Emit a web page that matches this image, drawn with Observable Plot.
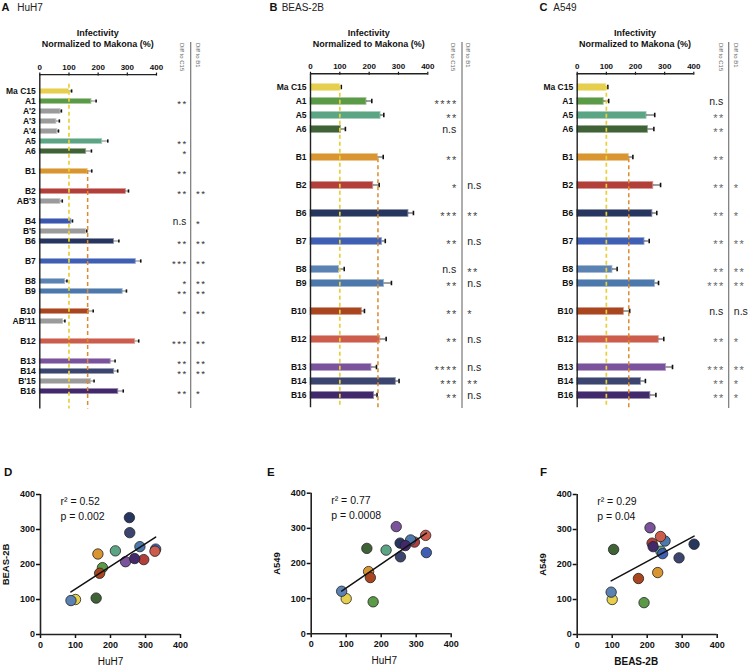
<!DOCTYPE html>
<html><head><meta charset="utf-8">
<script src="https://cdn.jsdelivr.net/npm/d3@7"></script>
<script src="https://cdn.jsdelivr.net/npm/@observablehq/plot@0.6"></script>
<style>
body{margin:0;background:#fff;}
#root{position:relative;width:748px;height:666px;overflow:hidden;font-family:Arial,"Liberation Sans",sans-serif;background:#fff;}
#root svg{position:absolute;}
</style></head><body><div id="root"></div>
<script>
// ---------------- data ----------------
const strainColors = {
  "Ma C15":"#e6cf4c","A1":"#5b9a47","A5":"#5ba584","A6":"#3f6236","B1":"#d9952f","B2":"#b23f3a",
  "B4":"#3b56ae","B6":"#27365f","B7":"#3e5fb3","B8":"#5a82b2","B9":"#4d78ac","B10":"#a9461f",
  "B12":"#cc5d4d","B13":"#7b529c","B14":"#3b4570","B16":"#41296b"
};
const grayColor = "#9b9b9b";
const xTicks = [0,100,200,300,400];

// Panel A (HuH7): row layout (null = empty spacer row)
const rowsA = ["Ma C15","A1","A'2","A'3","A'4","A5","A6",null,"B1",null,"B2","AB'3",null,"B4","B'5","B6",null,"B7",null,"B8","B9",null,"B10","AB'11",null,"B12",null,"B13","B14","B'15","B16"];
const strainsA = ["Ma C15","A1","A'2","A'3","A'4","A5","A6","B1","B2","AB'3","B4","B'5","B6","B7","B8","B9","B10","AB'11","B12","B13","B14","B'15","B16"];
const huh7    = [100,177,71,57,60,214,159,164,295,71,108,158,254,329,87,284,169,80,327,243,255,176,269];
const huh7Err = [9,16,3,10,4,19,18,14,9,6,4,3,17,17,6,13,14,6,12,15,12,10,17];
const huh7SigC15 = ["","**","","","","**","*","**","**","","n.s","","**","***","*","**","*","","***","**","**","","**"];
const huh7SigB1  = ["","","","","","","","","**","","*","","**","**","**","**","**","","**","**","**","","*"];

// Panels B (BEAS-2B) and C (A549)
const rowsBC = ["Ma C15","A1","A5","A6",null,"B1",null,"B2",null,"B6",null,"B7",null,"B8","B9",null,"B10",null,"B12",null,"B13","B14","B16"];
const strainsBC = ["Ma C15","A1","A5","A6","B1","B2","B6","B7","B8","B9","B10","B12","B13","B14","B16"];
const beas    = [100,191,239,104,230,214,334,244,97,251,175,238,208,291,217];
const beasErr = [5,18,11,15,18,20,17,11,18,25,9,20,17,11,10];
const beasSigC15 = ["","****","**","n.s","**","*","***","**","n.s","**","**","**","****","***","**"];
const beasSigB1  = ["","","","","","n.s","**","n.s","**","n.s","*","n.s","n.s","**","n.s"];
const a549    = [100,91,238,243,177,261,258,231,121,267,160,280,305,219,251];
const a549Err = [5,17,28,20,14,25,15,16,16,12,20,17,22,15,19];
const a549SigC15 = ["","n.s","**","**","**","**","**","**","**","***","n.s","**","***","**","**"];
const a549SigB1  = ["","","","","","*","*","**","**","**","n.s","*","**","*","*"];

// correlation statistics
const corrStats = {D:["r² = 0.52","p = 0.002"], E:["r² = 0.77","p = 0.0008"], F:["r² = 0.29","p = 0.04"]};
const titleLines = ["Infectivity","Normalized to Makona (%)"];
const headerTexts = ["Diff to C15","Diff to B1"];

// ---------------- drawing ----------------
const root = document.getElementById("root");
const FONT = 'Arial, "Liberation Sans", sans-serif';

function barPanel(cfg) {
  const {rows, strains, vals, errs, sigC15, sigB1, left, width, height, mL, mR, mT, mB, barH, capH, dxC15, dxB1, starFill, starSize, nsSize} = cfg;
  const domain = rows.map((d,i) => d ?? `gap${i}`);
  const step = (height - mT - mB) / domain.length;
  const data = strains.map((s,i) => ({s, v: vals[i], e: errs[i], c15: sigC15[i], b1: sigB1[i], color: strainColors[s] ?? grayColor}));
  const inset = (step - barH) / 2;
  const refC15 = vals[strains.indexOf("Ma C15")];
  const refB1 = vals[strains.indexOf("B1")];
  const isStar = t => t && t !== "n.s";
  const isNs = t => t === "n.s";
  const svg = Plot.plot({
    width, height, marginLeft: mL, marginRight: mR, marginTop: mT, marginBottom: mB,
    x: {domain: [0, 400]},
    y: {domain, type: "band", padding: 0},
    color: {type: "identity"},
    style: {fontFamily: FONT, fontSize: "8px", background: "transparent", color: "#111"},
    marks: [
      Plot.axisX({anchor: "top", ticks: xTicks, tickSize: 3, tickPadding: 2, label: null, fontWeight: "bold", fontSize: 8, strokeWidth: 1.2}),
      Plot.axisY({tickSize: 0, tickPadding: 4, label: null, tickFormat: d => d.startsWith("gap") ? "" : d, fontWeight: "bold", fontSize: 8.5}),
      Plot.barX(data, {y: "s", x1: 0, x2: "v", fill: "color", stroke: d => d3.interpolateRgb(d.color, "#fff")(0.45), strokeWidth: 0.8, insetTop: inset, insetBottom: inset}),
      Plot.barX(data, {y: "s", x1: "v", x2: d => d.v + d.e, fill: "#111", insetTop: (step - 1.3) / 2, insetBottom: (step - 1.3) / 2}),
      Plot.tickX(data, {x: d => d.v + d.e, y: "s", stroke: "#111", strokeWidth: 1.6, insetTop: (step - capH) / 2, insetBottom: (step - capH) / 2}),
      Plot.ruleX([refC15], {stroke: "#e8d03a", strokeWidth: 1.7, strokeDasharray: "4,3", insetTop: step / 2 + barH / 2 + 1}),
      Plot.ruleX([refB1], {stroke: "#dc8a2c", strokeWidth: 1.5, strokeDasharray: "4,3", insetTop: (domain.indexOf("B1") + 0.5) * step + barH / 2 + 1}),
      Plot.ruleX([0], {stroke: "#222", strokeWidth: 1.4}),
      Plot.text(data.filter(d => isStar(d.c15)), {y: "s", text: "c15", frameAnchor: "right", textAnchor: "end", lineAnchor: "middle", dx: dxC15 + 1.5, dy: starSize * 0.27, fontSize: starSize, fill: starFill}),
      Plot.text(data.filter(d => isNs(d.c15)), {y: "s", text: "c15", frameAnchor: "right", textAnchor: "end", lineAnchor: "middle", dx: dxC15, fontSize: nsSize, fill: "#222"}),
      Plot.text(data.filter(d => isStar(d.b1)), {y: "s", text: "b1", frameAnchor: "right", textAnchor: "start", lineAnchor: "middle", dx: dxB1, dy: starSize * 0.27, fontSize: starSize, fill: starFill}),
      Plot.text(data.filter(d => isNs(d.b1)), {y: "s", text: "b1", frameAnchor: "right", textAnchor: "start", lineAnchor: "middle", dx: dxB1, fontSize: nsSize, fill: "#222"})
    ]
  });
  svg.style.left = left + "px"; svg.style.top = "0px";
  // spread the asterisks a little, as in the reference
  d3.select(svg).selectAll("text").filter(function() { return /^\*+$/.test(this.textContent); })
    .attr("letter-spacing", 1.5);
  // top axis domain line
  d3.select(svg).append("line")
    .attr("x1", mL).attr("x2", width - mR).attr("y1", mT).attr("y2", mT)
    .attr("stroke", "#222").attr("stroke-width", 1.4);
  root.appendChild(svg);
}

barPanel({rows: rowsA, strains: strainsA, vals: huh7, errs: huh7Err, sigC15: huh7SigC15, sigB1: huh7SigB1,
  left: 0, width: 250, height: 420, mL: 39.3, mR: 94, mT: 74.6, mB: 11.6, barH: 5.6, capH: 4, dxC15: 29.7, dxB1: 39.5, starFill: "#333", starSize: 9.5, nsSize: 10});
barPanel({rows: rowsBC, strains: strainsBC, vals: beas, errs: beasErr, sigC15: beasSigC15, sigB1: beasSigB1,
  left: 250, width: 250, height: 420, mL: 60, mR: 72.7, mT: 73.75, mB: 12.75, barH: 7.4, capH: 5, dxC15: 28.4, dxB1: 39.4, starFill: "#444", starSize: 11, nsSize: 10.5});
barPanel({rows: rowsBC, strains: strainsBC, vals: a549, errs: a549Err, sigC15: a549SigC15, sigB1: a549SigB1,
  left: 500, width: 248, height: 420, mL: 76.7, mR: 54.7, mT: 73.75, mB: 12.75, barH: 7.4, capH: 5, dxC15: 29.4, dxB1: 40, starFill: "#666", starSize: 11, nsSize: 10.5});

function scatterPanel(cfg) {
  const {left, width, mL, mR, mT, mB, xs, ys, xLabel, yLabel, stats, yLabelDx, xLabelDx, xLabelBold} = cfg;
  const pts = strainsBC.map((s, i) => ({s, x: xs[i], y: ys[i], color: strainColors[s]}));
  const svg = Plot.plot({
    width, height: 236, marginLeft: mL, marginRight: mR, marginTop: mT, marginBottom: mB,
    x: {domain: [0, 400]}, y: {domain: [0, 400]},
    color: {type: "identity"},
    style: {fontFamily: FONT, fontSize: "9px", background: "transparent", color: "#111"},
    marks: [
      Plot.axisX({ticks: xTicks, tickSize: 4, tickPadding: 3, label: null, fontWeight: "bold", fontSize: 9, strokeWidth: 1.5}),
      Plot.axisY({ticks: xTicks, tickSize: 4, tickPadding: 1.5, label: null, fontWeight: "bold", fontSize: 9, strokeWidth: 1.5}),
      Plot.ruleX([0], {stroke: "#222", strokeWidth: 1.6}),
      Plot.ruleY([0], {stroke: "#222", strokeWidth: 1.6}),
      Plot.dot(pts, {x: "x", y: "y", r: 5.2, fill: "color", stroke: "#222", strokeWidth: 0.8}),
      Plot.linearRegressionY(pts, {x: "x", y: "y", ci: 0, stroke: "#111", strokeWidth: 1.5}),
      Plot.text([xLabel], {text: d => d, frameAnchor: "bottom", textAnchor: "middle", lineAnchor: "middle", dx: xLabelDx, dy: 27, fontSize: 10, fontWeight: xLabelBold ? "bold" : "normal"}),
      Plot.text([yLabel], {text: d => d, frameAnchor: "left", textAnchor: "middle", lineAnchor: "middle", rotate: -90, dx: yLabelDx, fontSize: 9.5, fontWeight: "bold"}),
      Plot.text([stats.join("\n")], {text: d => d, frameAnchor: "top-left", textAnchor: "start", lineAnchor: "middle", lineHeight: 1.45, dx: 20, dy: 13.5, fontSize: 10.5})
    ]
  });
  svg.style.left = left + "px"; svg.style.top = "430px";
  root.appendChild(svg);
}

const huh7Common = strainsBC.map(s => huh7[strainsA.indexOf(s)]);
scatterPanel({left: 0, width: 250, mL: 40, mR: 70, mT: 64, mB: 32, xs: huh7Common, ys: beas, xLabel: "HuH7", yLabel: "BEAS-2B", stats: corrStats.D, yLabelDx: -35, xLabelDx: 0});
scatterPanel({left: 250, width: 250, mL: 60.7, mR: 49.3, mT: 62.7, mB: 32.7, xs: huh7Common, ys: a549, xLabel: "HuH7", yLabel: "A549", stats: corrStats.E, yLabelDx: -34, xLabelDx: 3});
scatterPanel({left: 500, width: 248, mL: 76.7, mR: 31.3, mT: 64, mB: 32, xs: beas, ys: a549, xLabel: "BEAS-2B", yLabel: "A549", stats: corrStats.F, yLabelDx: -34.7, xLabelDx: -11, xLabelBold: true});

// ---------------- overlay annotations ----------------
const ov = d3.select(root).append("svg").attr("width", 748).attr("height", 666)
  .style("left", "0px").style("top", "0px").style("pointer-events", "none")
  .attr("font-family", FONT);

const panelHeads = [
  {letter: "A", name: "HuH7", lx: 1.5, nx: 17.3, tc: 97.7, h1: 181.7, h2: 198.3, sep: 190.7},
  {letter: "B", name: "BEAS-2B", lx: 269.5, nx: 281.7, tc: 368.7, h1: 452.7, h2: 468.3, sep: 462},
  {letter: "C", name: "A549", lx: 539.5, nx: 553.3, tc: 635, h1: 720.7, h2: 735.7, sep: 728.7}
];
for (const p of panelHeads) {
  ov.append("text").attr("x", p.lx).attr("y", 10.8).attr("font-size", 11).attr("font-weight", "bold").attr("fill", "#111").text(p.letter);
  ov.append("text").attr("x", p.nx).attr("y", 10.8).attr("font-size", 10).attr("fill", "#222").text(p.name);
  titleLines.forEach((t, i) => ov.append("text").attr("x", p.tc).attr("y", 35.5 + i * 11.5)
    .attr("text-anchor", "middle").attr("font-size", 9).attr("font-weight", "bold").attr("fill", "#111").text(t));
  [p.h1, p.h2].forEach((hx, i) => ov.append("text")
    .attr("transform", `translate(${hx},43) rotate(90)`).attr("dy", "0.35em")
    .attr("font-size", 6).attr("fill", "#666").text(headerTexts[i]));
  ov.append("line").attr("x1", p.sep).attr("x2", p.sep).attr("y1", 42).attr("y2", 408)
    .attr("stroke", "#777").attr("stroke-width", 1.2);
}
[{l: "D", x: 4}, {l: "E", x: 267}, {l: "F", x: 540}].forEach(d =>
  ov.append("text").attr("x", d.x).attr("y", 475.5).attr("font-size", 11.5).attr("font-weight", "bold").attr("fill", "#111").text(d.l));
</script></body></html>
